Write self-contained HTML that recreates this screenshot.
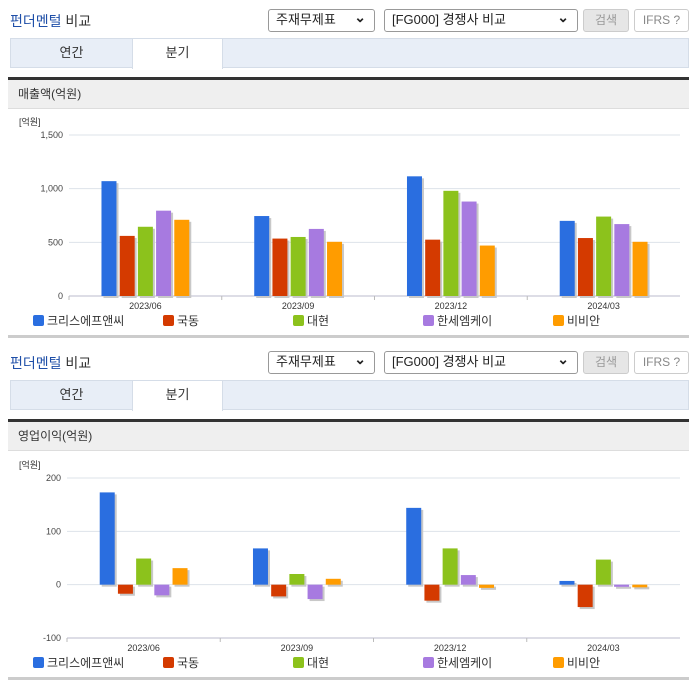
<!DOCTYPE html>
<html><head><meta charset="utf-8">
<style>
*{box-sizing:border-box;margin:0;padding:0}
body{width:696px;height:684px;background:#fff;font-family:"Liberation Sans","Noto Sans CJK KR",sans-serif;position:relative;overflow:hidden;color:#333}
.abs{position:absolute}
.title{font-size:14px;color:#1f4fa8;left:10px}
.title span{color:#333}
.sel{border:1px solid #999;border-radius:3px;height:23px;font-size:13px;line-height:20px;padding:0 7px;background:#fff;color:#222}
.sel i{position:absolute;right:8px;top:-3px;font-style:normal;font-size:14px;font-weight:bold}
.btn{border:1px solid #ccc;border-radius:3px;height:23px;font-size:12px;color:#999;text-align:center;line-height:21px}
.tabs{left:10px;width:679px;height:30px;background:#e8eef7;border:1px solid #d5dde8}
.tab{top:0;height:29px;font-size:13px;text-align:center;line-height:28px;color:#333}
.thick{left:8px;width:681px;height:3px;background:#333}
.sh{left:8px;width:681px;height:29px;background:#efefef;border-bottom:1px solid #ddd;font-size:12px;line-height:29px;padding-left:10px}
.gline{left:8px;width:681px;height:3px;background:#ccc}
</style></head><body>
<div id="root"></div>
<script>
const categories=["2023/06","2023/09","2023/12","2024/03"];
const seriesNames=["크리스에프앤씨","국동","대현","한세엠케이","비비안"];
const colors=["#2a6ee0","#d43a00","#8cc21c","#a77ae0","#ff9c00"];
const sales1=[1070,745,1115,700];
const sales2=[560,535,525,540];
const sales3=[645,550,980,740];
const sales4=[795,625,880,670];
const sales5=[710,505,470,505];
const op1=[173,68,144,7];
const op2=[-17,-22,-30,-42];
const op3=[49,20,68,47];
const op4=[-20,-27,18,-4];
const op5=[31,11,-6,-5];
const salesTicks=[0,500,1000,1500];
const salesTickLabels=["0","500","1,000","1,500"];
const opTicks=[-100,0,100,200];
const opTickLabels=["-100","0","100","200"];

const root=document.getElementById('root');
function el(tag,cls,style,html,parent){const e=document.createElement(tag);if(cls)e.className=cls;if(style)e.style.cssText=style;if(html!==undefined)e.innerHTML=html;(parent||root).appendChild(e);return e;}
const NS="http://www.w3.org/2000/svg";
function sv(tag,attrs,parent){const e=document.createElementNS(NS,tag);for(const k in attrs)e.setAttribute(k,attrs[k]);parent.appendChild(e);return e;}

function panel(off,secTitle,series,ticks,tickLabels,ymin,ymax,yTopPx,yBotPx,axisX,prefix){
  let e;
  e=el('div','abs title','top:'+(off+11)+'px','펀더멘털 <span>비교</span>');
  
  
  e=el('div','abs sel','left:268px;top:'+(off+9)+'px;width:107px','주재무제표<i>⌄</i>');
  
  
  e=el('div','abs sel','left:384px;top:'+(off+9)+'px;width:194px','[FG000] 경쟁사 비교<i>⌄</i>');
  
  
  e=el('div','abs btn','left:583px;top:'+(off+9)+'px;width:46px;background:#e6e6e6','검색');
  
  
  e=el('div','abs btn','left:634px;top:'+(off+9)+'px;width:55px;color:#888','IFRS ?');
  
  
  const tabs=el('div','abs tabs','top:'+(off+38)+'px');
  
  
  e=el('div','abs tab','left:0;width:121px','연간',tabs);
  
  
  e=el('div','abs tab','left:121px;width:91px;background:#fff;border-left:1px solid #d5dde8;border-right:1px solid #d5dde8;height:30px','분기',tabs);
  
  
  e=el('div','abs thick','top:'+(off+77)+'px');
  
  
  e=el('div','abs sh','top:'+(off+80)+'px',secTitle);
  
  

  const svg=sv('svg',{width:696,height:230,style:'position:absolute;left:0;top:'+(off+110)+'px'},document.createElement('div'));
  root.appendChild(svg);
  
  
  const base=off+110;
  const y=v=>yBotPx-base-(v-ymin)/(ymax-ymin)*(yBotPx-yTopPx);
  const right=680, cw=(right-axisX)/categories.length;
  const cx=i=>axisX+cw*(i+0.5);
  let t=sv('text',{x:19,y:y(ymax)-10,'font-size':9,fill:'#333'},svg);t.textContent='[억원]';
  
  ticks.forEach((v,i)=>{
    const l=sv('line',{x1:axisX,x2:right,y1:y(v),y2:y(v),stroke:'#dde3ea','stroke-width':1},svg);
    
    const tx=sv('text',{x:axisX-6,y:y(v)+3,'font-size':9,fill:'#444','text-anchor':'end'},svg);tx.textContent=tickLabels[i];
    
  });
  const ax=sv('line',{x1:axisX,x2:right,y1:y(ymin),y2:y(ymin),stroke:'#bbc',"stroke-width":1},svg);
  
  const bw=15,gap=18.2;
  categories.forEach((c,i)=>{
    const tk=sv('line',{x1:axisX+cw*i,x2:axisX+cw*i,y1:y(ymin),y2:y(ymin)+4,stroke:'#bbb'},svg);
    
    const lb=sv('text',{x:cx(i),y:y(ymin)+13,'font-size':9,fill:'#333','text-anchor':'middle'},svg);lb.textContent=c;
    
    series.forEach((s,j)=>{
      const v=s[i];const x=cx(i)+(j-2)*gap-bw/2;
      const y0=y(Math.max(0,v)),h=Math.abs(y(v)-y(0));
      const shd=sv('rect',{x:x+2,y:y0+2,width:bw,height:h,fill:'#c8c8c8'},svg);
      
      const r=sv('rect',{x:x,y:y0,width:bw,height:h,fill:colors[j]},svg);
      
    });
  });
  seriesNames.forEach((n,j)=>{
    const lx=33+130*j, ly=y(ymin)+19;
    const g=sv('g',{},svg);
    
    sv('rect',{x:lx,y:ly,width:11,height:11,rx:2,fill:colors[j]},g);
    const tx=sv('text',{x:lx+14,y:ly+10,'font-size':12,fill:'#333'},g);tx.textContent=n;
  });
  e=el('div','abs gline','top:'+(off+335)+'px');
  
  
}
panel(0,'매출액(억원)',[sales1,sales2,sales3,sales4,sales5],salesTicks,salesTickLabels,0,1500,135,296,69,'sales');
panel(342,'영업이익(억원)',[op1,op2,op3,op4,op5],opTicks,opTickLabels,-100,200,478,638,67,'op');
</script>
</body></html>
